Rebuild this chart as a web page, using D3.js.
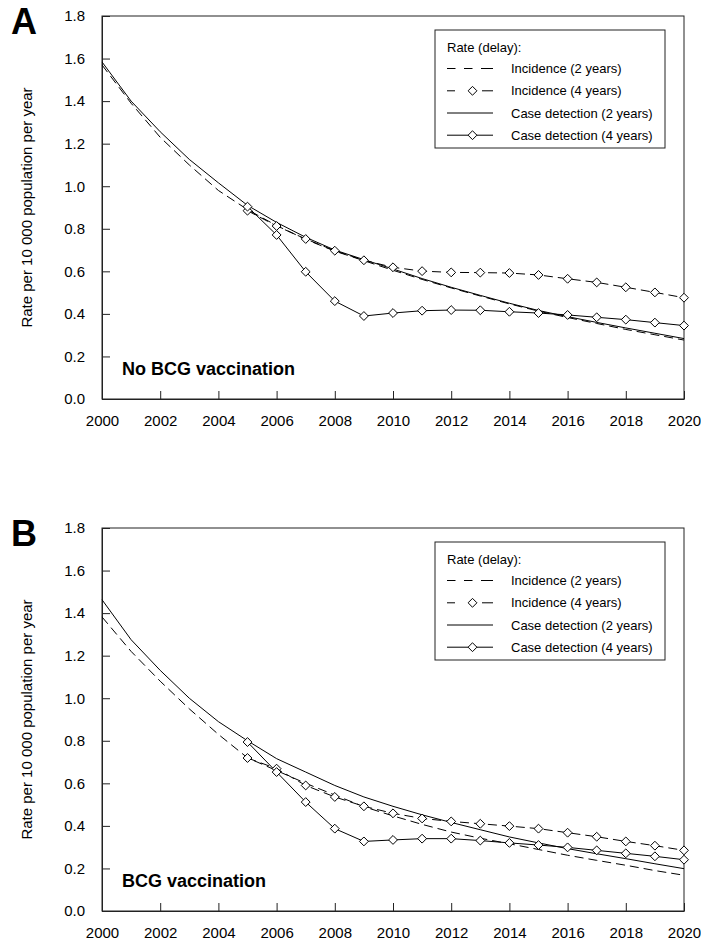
<!DOCTYPE html>
<html>
<head>
<meta charset="utf-8">
<script src="https://cdn.jsdelivr.net/npm/d3@7"></script>
<style>
  html, body { margin: 0; padding: 0; background: #fff; }
  svg { display: block; font-family: "Liberation Sans", Arial, sans-serif; }
</style>
</head>
<body>
<svg id="chart" width="701" height="942"></svg>
<script>
// Years on the x axis
const yearsAll = [2000, 2001, 2002, 2003, 2004, 2005, 2006, 2007, 2008, 2009, 2010,
                  2011, 2012, 2013, 2014, 2015, 2016, 2017, 2018, 2019, 2020];
const yearsLate = [2005, 2006, 2007, 2008, 2009, 2010, 2011, 2012,
                   2013, 2014, 2015, 2016, 2017, 2018, 2019, 2020];

const xTickValues = [2000, 2002, 2004, 2006, 2008, 2010, 2012, 2014, 2016, 2018, 2020];
const yTickValues = [0, 0.2, 0.4, 0.6, 0.8, 1.0, 1.2, 1.4, 1.6, 1.8];

// Panel A: no BCG vaccination
const noBcgIncidence2 = [1.57, 1.39, 1.23, 1.10, 0.98, 0.89, 0.815, 0.75, 0.695, 0.65, 0.605,
                         0.562, 0.522, 0.484, 0.447, 0.413, 0.383, 0.355, 0.327, 0.302, 0.277];
const noBcgDetection2 = [1.584, 1.40, 1.256, 1.126, 1.016, 0.91, 0.83, 0.76, 0.70, 0.655, 0.611,
                         0.566, 0.525, 0.487, 0.45, 0.416, 0.387, 0.36, 0.334, 0.309, 0.284];
const noBcgIncidence4 = [0.885, 0.813, 0.752, 0.697, 0.652, 0.619, 0.601, 0.595,
                         0.594, 0.592, 0.583, 0.565, 0.548, 0.525, 0.501, 0.476];
const noBcgDetection4 = [0.904, 0.771, 0.598, 0.46, 0.39, 0.404, 0.415, 0.418,
                         0.417, 0.41, 0.404, 0.395, 0.384, 0.373, 0.359, 0.345];

// Panel B: BCG vaccination
const bcgIncidence2 = [1.382, 1.22, 1.08, 0.95, 0.83, 0.72, 0.66, 0.60, 0.545, 0.49, 0.447,
                       0.407, 0.371, 0.342, 0.316, 0.289, 0.262, 0.238, 0.215, 0.19, 0.168];
const bcgDetection2 = [1.463, 1.275, 1.131, 1.0, 0.89, 0.80, 0.716, 0.653, 0.59, 0.536, 0.492,
                       0.452, 0.416, 0.382, 0.348, 0.32, 0.293, 0.269, 0.246, 0.222, 0.199];
const bcgIncidence4 = [0.719, 0.669, 0.59, 0.536, 0.492, 0.459, 0.435, 0.421,
                       0.41, 0.399, 0.387, 0.368, 0.349, 0.327, 0.307, 0.285];
const bcgDetection4 = [0.794, 0.653, 0.512, 0.387, 0.327, 0.334, 0.340, 0.340,
                       0.331, 0.320, 0.310, 0.299, 0.285, 0.271, 0.257, 0.241];

const legendTitle = "Rate (delay):";
const seriesNames = ["Incidence (2 years)", "Incidence (4 years)",
                     "Case detection (2 years)", "Case detection (4 years)"];

const panels = [
  { letter: "A", note: "No BCG vaccination", top: 16,
    series: [noBcgIncidence2, noBcgIncidence4, noBcgDetection2, noBcgDetection4] },
  { letter: "B", note: "BCG vaccination", top: 528,
    series: [bcgIncidence2, bcgIncidence4, bcgDetection2, bcgDetection4] }
];

// Drawing styles for the four series, in legend order
const styles = [
  { dashed: true,  markers: false, years: yearsAll },
  { dashed: true,  markers: true,  years: yearsLate },
  { dashed: false, markers: false, years: yearsAll },
  { dashed: false, markers: true,  years: yearsLate }
];

const svg = d3.select("#chart");
const left = 102, right = 684, plotH = 383;
const ink = "#000";

const diamond = d3.symbol().type(d3.symbolDiamond2).size(50);

panels.forEach(p => {
  const top = p.top, bottom = top + plotH;
  const x = d3.scaleLinear().domain([2000, 2020]).range([left, right]);
  const y = d3.scaleLinear().domain([0, 1.8]).range([bottom, top]);
  const g = svg.append("g");

  // Frame
  g.append("rect")
    .attr("x", left).attr("y", top)
    .attr("width", right - left).attr("height", plotH)
    .attr("fill", "none").attr("stroke", "#222").attr("stroke-width", 1);

  // Axes with inward ticks
  const yAxis = d3.axisLeft(y).tickValues(yTickValues)
    .tickFormat(d3.format(".1f")).tickSizeInner(-8).tickSizeOuter(0).tickPadding(17);
  const xAxis = d3.axisBottom(x).tickValues(xTickValues)
    .tickFormat(d3.format("d")).tickSizeInner(-8).tickSizeOuter(0).tickPadding(16);

  const ya = g.append("g").attr("transform", `translate(${left},0)`).call(yAxis);
  const xa = g.append("g").attr("transform", `translate(0,${bottom})`).call(xAxis);
  [ya, xa].forEach(a => {
    a.selectAll(".domain").attr("stroke", "#222");
    a.selectAll(".tick line").attr("stroke", "#222");
    a.selectAll(".tick text").attr("fill", ink)
      .style("font-size", "15px").style("font-family", "'Liberation Sans', Arial, sans-serif");
  });

  // Y axis title
  g.append("text")
    .attr("transform", `translate(32,${(top + bottom) / 2}) rotate(-90)`)
    .attr("text-anchor", "middle")
    .style("font-size", "15px").attr("fill", ink)
    .text("Rate per 10 000 population per year");

  // Panel letter
  g.append("text")
    .attr("x", 11).attr("y", top + 18)
    .style("font-size", "36px").style("font-weight", "bold").attr("fill", ink)
    .text(p.letter);

  // Scenario note
  g.append("text")
    .attr("x", 122).attr("y", bottom - 24)
    .style("font-size", "18px").style("font-weight", "bold").attr("fill", ink)
    .text(p.note);

  // Series lines
  const clip = "clip-" + p.letter;
  svg.append("clipPath").attr("id", clip)
    .append("rect").attr("x", left).attr("y", top).attr("width", right - left).attr("height", plotH);

  const line = d3.line().x(d => x(d[0])).y(d => y(d[1]));
  p.series.forEach((vals, i) => {
    const s = styles[i];
    const pts = s.years.map((yr, k) => [yr, vals[k]]);
    g.append("path")
      .datum(pts)
      .attr("d", line)
      .attr("fill", "none")
      .attr("stroke", ink)
      .attr("stroke-width", 1)
      .attr("stroke-dasharray", s.dashed ? "9,5" : null);
  });

  // Diamond markers on top
  p.series.forEach((vals, i) => {
    const s = styles[i];
    if (!s.markers) return;
    const pts = s.years.map((yr, k) => [yr, vals[k]]);
    g.selectAll(null).data(pts).enter().append("path")
      .attr("d", diamond)
      .attr("transform", d => `translate(${x(d[0])},${y(d[1])})`)
      .attr("fill", "#fff").attr("stroke", ink).attr("stroke-width", 1);
  });

  // Legend
  const lx = 435, ly = top + 14, lw = 230, lh = 118;
  const lg = g.append("g");
  lg.append("rect").attr("x", lx).attr("y", ly).attr("width", lw).attr("height", lh)
    .attr("fill", "#fff").attr("stroke", "#222").attr("stroke-width", 1);
  lg.append("text").attr("x", lx + 12).attr("y", ly + 22)
    .style("font-size", "13px").attr("fill", ink).text(legendTitle);

  const rowY = [38.5, 60.8, 83, 105.2];
  const legendDash = ["8.5,8.5,8.5,8.5,12", "8,27,11", null, null];
  seriesNames.forEach((name, i) => {
    const cy = ly + rowY[i];
    lg.append("line")
      .attr("x1", lx + 12).attr("x2", lx + 58)
      .attr("y1", cy).attr("y2", cy)
      .attr("stroke", ink).attr("stroke-width", 1)
      .attr("stroke-dasharray", legendDash[i]);
    if (styles[i].markers) {
      lg.append("path").attr("d", diamond)
        .attr("transform", `translate(${lx + 37.5},${cy})`)
        .attr("fill", "#fff").attr("stroke", ink).attr("stroke-width", 1);
    }
    lg.append("text").attr("x", lx + 76).attr("y", cy + 4.6)
      .style("font-size", "13px").attr("fill", ink).text(name);
  });
});
</script>
</body>
</html>
